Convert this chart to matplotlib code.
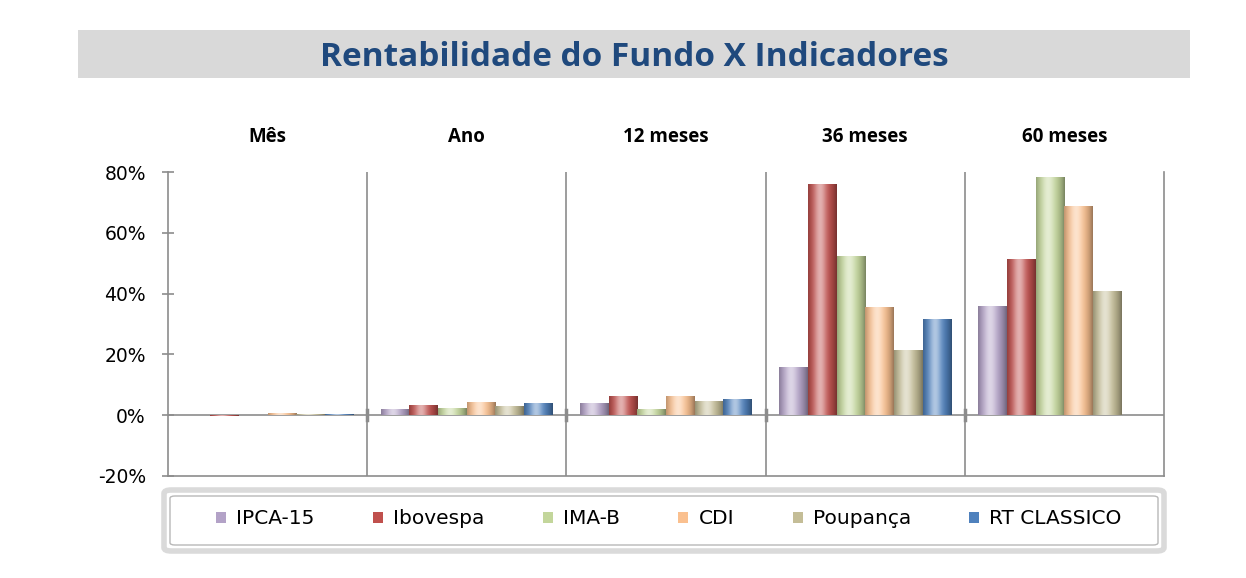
import numpy as np
import matplotlib.pyplot as plt
from matplotlib.patches import Rectangle, FancyBboxPatch
from matplotlib.colors import to_rgb
import matplotlib.transforms as mtransforms

# data (% return)
periods = ["Mês", "Ano", "12 meses", "36 meses", "60 meses"]
series = ["IPCA-15", "Ibovespa", "IMA-B", "CDI", "Poupança", "RT CLASSICO"]
ipca15 = [0.1, 2.2, 3.9, 16.0, 35.8]
ibovespa = [-0.2, 3.3, 6.4, 76.0, 51.5]
imab = [0.1, 2.3, 1.9, 52.5, 78.5]
cdi = [0.6, 4.4, 6.3, 35.7, 68.8]
poupanca = [0.5, 3.0, 4.6, 21.5, 40.7]
rt_classico = [0.5, 3.9, 5.3, 31.8, 0.0]
values = [ipca15, ibovespa, imab, cdi, poupanca, rt_classico]
colors = ["#b3a2c7", "#c0504d", "#c3d69b", "#fac08f", "#c4bd97", "#4f81bd"]

W, H = 1246, 578
fig = plt.figure(figsize=(W / 100, H / 100), dpi=100)
fig.patch.set_facecolor("white")

# title band
fig.patches.append(Rectangle((78 / W, 1 - 78 / H), (1190 - 78) / W, 48 / H,
                             transform=fig.transFigure, facecolor="#d9d9d9",
                             edgecolor="none", zorder=0))
fig.text(634 / W, 1 - 57 / H, "Rentabilidade do Fundo X Indicadores",
         ha="center", va="center", fontsize=24, fontweight="bold",
         color="#1f497d", family="Open Sans")

# legend frame
fig.patches.append(FancyBboxPatch((164 / W, 1 - 551 / H), (1164 - 164) / W, 61 / H,
                                  boxstyle="round,pad=0,rounding_size=0.006",
                                  transform=fig.transFigure, facecolor="white",
                                  edgecolor="#dadada", linewidth=4, zorder=0))
fig.patches.append(FancyBboxPatch((170 / W, 1 - 545 / H), (1158 - 170) / W, 49 / H,
                                  boxstyle="round,pad=0,rounding_size=0.004",
                                  transform=fig.transFigure, facecolor="white",
                                  edgecolor="#b8b8b8", linewidth=1, zorder=0))

ax = fig.add_axes([168 / W, 1 - 476 / H, (1164 - 168) / W, (476 - 172) / H])

n = len(series)
bw = 0.144
x = np.arange(len(periods))


def shade(base, m=64):
    # horizontal cylinder-like shading for one bar
    c = np.array(to_rgb(base))
    t = np.linspace(0, 1, m)
    light = 0.55 * np.exp(-((t - 0.42) / 0.22) ** 2)
    dark = 0.38 * (np.abs(t - 0.45) / 0.55) ** 2.5
    col = c[None, :] * (1 - dark[:, None])
    col = col + (1 - col) * light[:, None]
    return np.clip(col, 0, 1)[None, :, :]


handles = []
for j, (vals, col) in enumerate(zip(values, colors)):
    bars = ax.bar(x + (j - (n - 1) / 2) * bw, vals, bw, color=col,
                  edgecolor="none", zorder=3, label=series[j])
    handles.append(bars)
    img = shade(col)
    for b in bars:
        bx, by = b.get_x(), b.get_y()
        bh = b.get_height()
        if bh == 0:
            continue
        im = ax.imshow(img, extent=[bx, bx + b.get_width(), min(by, by + bh), max(by, by + bh)],
                       aspect="auto", zorder=4, interpolation="bilinear")
        im.set_clip_path(b)

ax.set_xlim(-0.5, len(periods) - 0.5)
ax.set_ylim(-20, 80)
ax.set_yticks([-20, 0, 20, 40, 60, 80])
ax.set_yticklabels([f"{v}%" for v in [-20, 0, 20, 40, 60, 80]],
                   fontsize=13.5, family="DejaVu Sans")
ax.set_xticks([])
ax.tick_params(axis="y", direction="inout", length=8, width=1.2,
               color="#8c8c8c", pad=12)

ax.spines["top"].set_visible(False)
for s in ["left", "right", "bottom"]:
    ax.spines[s].set_color("#8c8c8c")
    ax.spines[s].set_linewidth(1.2)

ax.axhline(0, color="#8c8c8c", lw=1.2, zorder=2)
for b in np.arange(0.5, len(periods) - 1, 1):
    ax.axvline(b, color="#8c8c8c", lw=1.2, zorder=2)
    ax.plot([b, b], [-1.6, 1.6], color="#8c8c8c", lw=2.5, zorder=2)

trans = mtransforms.blended_transform_factory(ax.transData, ax.transAxes)
for i, p in enumerate(periods):
    ax.text(i, 1.115, p, transform=trans, ha="center", va="center",
            fontsize=13.5, fontweight="bold", family="Open Sans")

fig.legend(handles=handles, labels=series, loc="center",
           bbox_to_anchor=(669 / W, 1 - 519 / H), ncol=6, frameon=False,
           fontsize=14.5, handlelength=0.5, handleheight=0.5,
           handletextpad=0.5, columnspacing=2.9)

fig.savefig("out.png", dpi=100)
